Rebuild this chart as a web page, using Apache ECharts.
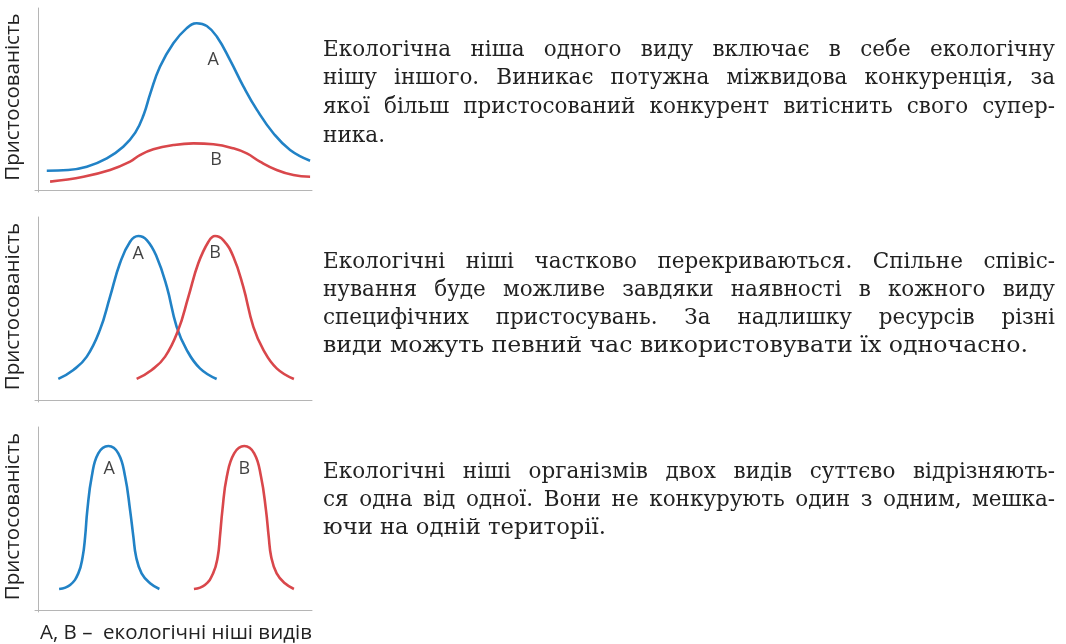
<!DOCTYPE html>
<html><head><meta charset="utf-8">
<script src="https://cdn.jsdelivr.net/npm/echarts@6/dist/echarts.min.js"></script>
<style>html,body{margin:0;padding:0;background:#fff;}#c{width:1066px;height:644px;}</style>
</head><body><div id="c"></div>
<script>
// ---- data (x: position along niche axis 0..100, y: fitness 0..100) ----
const yAxisName = 'Пристосованість';
const footnote = 'А, В –  екологічні ніші видів';
const panel1A = [[3.2,10.6],[11.0,11.0],[17.8,12.8],[25.1,17.4],[31.1,23.8],[35.5,31.5],[38.6,41.5],[41.0,53.1],[44.5,67.7],[49.4,80.6],[54.2,88.8],[57.9,91.6],[61.6,90.1],[65.3,84.2],[70.1,71.4],[75.0,56.8],[79.9,44.0],[85.9,31.2],[92.0,22.0],[99.3,16.1]];
const panel1B = [[4.4,4.6],[16.6,7.3],[26.3,11.0],[33.6,15.6],[37.2,19.2],[42.1,22.4],[49.4,24.7],[56.7,25.6],[64.0,25.1],[71.3,22.9],[76.2,20.1],[81.0,15.6],[87.1,11.0],[93.2,8.2],[99.3,7.3]];
const panel2A = [[7.4,11.5],[12.9,16.4],[17.8,23.7],[22.6,38.3],[26.3,56.5],[29.9,74.7],[33.6,86.5],[36.6,89.6],[39.7,87.4],[43.3,78.3],[47.0,61.9],[50.6,40.0],[54.3,27.3],[59.1,17.3],[65.2,11.5]];
const panel2B = [[36.0,11.5],[41.5,16.4],[46.4,23.7],[51.2,38.3],[54.9,56.5],[58.5,74.7],[62.2,86.5],[64.6,89.6],[67.6,87.4],[71.3,78.3],[74.9,61.9],[78.6,40.0],[82.3,27.3],[87.1,17.3],[93.4,11.5]];
const panel3A = [[7.7,11.5],[11.7,13.7],[14.7,20.0],[16.3,29.1],[17.2,40.1],[18.0,54.6],[19.6,72.8],[22.0,85.6],[25.7,89.6],[29.3,85.6],[31.8,72.8],[33.6,54.6],[34.8,40.1],[35.8,29.1],[37.8,20.0],[40.9,14.6],[44.3,11.5]];
const panel3B = [[56.9,11.5],[60.9,13.7],[63.9,20.0],[65.6,29.1],[66.4,40.1],[67.3,54.6],[68.9,72.8],[71.6,85.6],[75.3,89.6],[78.9,85.6],[81.4,72.8],[83.2,54.6],[84.2,40.1],[85.1,29.1],[87.1,20.0],[90.1,14.6],[93.4,11.5]];
const labels1 = [[63.9,71.4,'А'],[65.0,16.5,'В']];
const labels2 = [[36.6,79.8,'А'],[64.6,80.5,'В']];
const labels3 = [[26.0,77.2,'А'],[75.3,77.2,'В']];
const para1 = ['Екологічна ніша одного виду включає в себе екологічну','нішу іншого. Виникає потужна міжвидова конкуренція, за','якої більш пристосований конкурент витіснить свого супер-','ника.'];
const para2 = ['Екологічні ніші частково перекриваються. Спільне співіс-','нування буде можливе завдяки наявності в кожного виду','специфічних пристосувань. За надлишку ресурсів різні','види можуть певний час використовувати їх одночасно.'];
const para3 = ['Екологічні ніші організмів двох видів суттєво відрізняють-','ся одна від одної.  Вони не конкурують один з одним, мешка-','ючи на одній території.'];

// ---- layout / style ----
const BLUE = '#2182c6', RED = '#d9474b', AXIS = '#b5b5b5', INK = '#222';
const SANS = '"Open Sans", "Noto Sans", sans-serif';
const SERIF = '"DejaVu Serif", serif';
const PFS = 21.5;
const grids = [
  {left:35, top:8, width:277, height:184},
  {left:35, top:217, width:277, height:185},
  {left:35, top:427, width:277, height:185}
];
const panels = [[panel1A,panel1B,labels1],[panel2A,panel2B,labels2],[panel3A,panel3B,labels3]];

const xAxes = [], yAxes = [], series = [];
grids.forEach((g,i)=>{
  xAxes.push({gridIndex:i,type:'value',min:-1.1,max:100,
    axisLine:{show:true,onZero:true,lineStyle:{color:AXIS,width:1}},
    axisTick:{show:false},axisLabel:{show:false},splitLine:{show:false}});
  yAxes.push({gridIndex:i,type:'value',min:-1.1,max:100,
    name:yAxisName,nameLocation:'middle',nameGap:11,
    nameTextStyle:{fontFamily:SANS,fontSize:20.5,color:INK,padding:[0,0,0,6]},
    axisLine:{show:true,onZero:true,lineStyle:{color:AXIS,width:1}},
    axisTick:{show:false},axisLabel:{show:false},splitLine:{show:false}});
  const [a,b,lab] = panels[i];
  [[a,BLUE],[b,RED]].forEach(([d,c])=>{
    series.push({type:'line',xAxisIndex:i,yAxisIndex:i,data:d,smooth:0.45,showSymbol:false,silent:true,
      lineStyle:{color:c,width:2.6},itemStyle:{color:c}});
  });
  series.push({type:'scatter',xAxisIndex:i,yAxisIndex:i,data:lab,symbolSize:2,silent:true,
    itemStyle:{color:'rgba(0,0,0,0)'},
    label:{show:true,position:'inside',formatter:p=>p.value[2],fontFamily:SANS,fontSize:18,color:'#111'}});
});

// ---- justified paragraph text ----
const mctx = document.createElement('canvas').getContext('2d');
function tw(s){ mctx.font = PFS + 'px ' + SERIF; return mctx.measureText(s).width; }
const graphics = [];
function txt(s,x,y,sx){
  graphics.push({type:'text',x:x,y:y,scaleX:sx,style:{text:s,fontSize:PFS,fontFamily:SERIF,fill:INK,verticalAlign:'middle'}});
}
function para(lines, x0, x1, yc, lh, lastEnd){
  const W = x1-x0, g0 = tw(' ');
  lines.forEach((ln,li)=>{
    const y = yc + li*lh;
    if(li === lines.length-1){
      txt(ln, x0, y, (lastEnd-x0)/tw(ln));
      return;
    }
    const words = ln.split(/\s+/);
    const ws = words.map(tw);
    const sum = ws.reduce((s,v)=>s+v,0);
    let s = 1, gap = (W-sum)/(words.length-1);
    if(gap < g0){ s = W/(sum+g0*(words.length-1)); gap = g0*s; }
    let x = x0;
    words.forEach((w,k)=>{ txt(w, x, y, s); x += ws[k]*s+gap; });
  });
}
para(para1, 323, 1055, 50, 28.8, 385);
para(para2, 323, 1055, 262, 28.3, 1028);
para(para3, 323, 1055, 472, 28.3, 606);
graphics.push({type:'text',x:40,y:633,style:{text:footnote,fontSize:20.5,fontFamily:SANS,fill:INK,verticalAlign:'middle'}});

const chart = echarts.init(document.getElementById('c'));
chart.setOption({
  animation:false,
  backgroundColor:'#fff',
  grid:grids,
  xAxis:xAxes,
  yAxis:yAxes,
  series:series,
  graphic:graphics
});
</script></body></html>
